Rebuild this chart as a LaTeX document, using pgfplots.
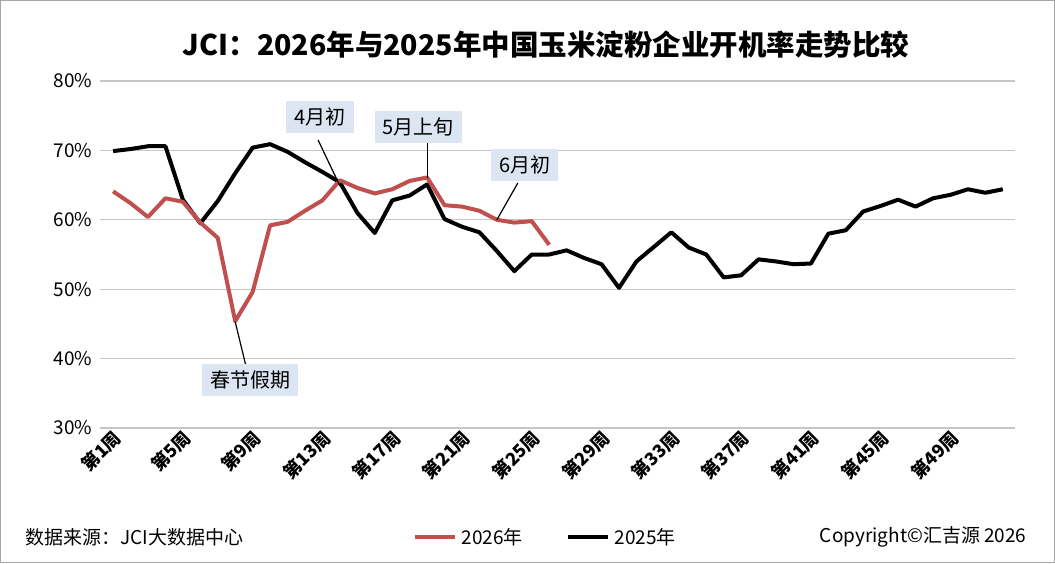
\documentclass[border=0pt]{standalone}
\usepackage{pgfplots}
\pgfplotsset{compat=1.18}
\usepackage{fontspec}
\setmainfont{Noto Sans CJK SC}
\definecolor{red26}{HTML}{C0504D}
\definecolor{boxc}{HTML}{DCE6F2}
\begin{document}
\begin{tikzpicture}[x=1pt,y=1pt]
\draw[color=gray!70,line width=1pt,fill=white] (0.5,0.5) rectangle (1054.5,562.5);
\node[font=\fontsize{28.5}{32}\selectfont\bfseries] at (546,518) {JCI：2026年与2025年中国玉米淀粉企业开机率走势比较};
\begin{axis}[at={(100pt,135pt)},anchor=south west,scale only axis,width=915pt,height=347pt,
  xmin=0.25,xmax=52.7,ymin=30,ymax=80,
  ytick={30,40,...,80},yticklabel={\pgfmathprintnumber{\tick}\%},
  xtick={1,5,...,49},xticklabels={第1周,第5周,第9周,第13周,第17周,第21周,第25周,第29周,第33周,第37周,第41周,第45周,第49周},
  xticklabel style={rotate=45,anchor=north east,font=\fontsize{18}{20}\selectfont\bfseries,yshift=2pt,inner sep=1pt},
  yticklabel style={font=\fontsize{19}{22}\selectfont,xshift=-4pt},
  /pgf/number format/assume math mode=true,
  ymajorgrids,grid style={color=gray!45,line width=1.2pt},
  axis line style={draw=none},major tick length=0pt,
  clip=false]
\addplot[black,line width=4pt,line join=round] coordinates {
(1,69.9)(2,70.2)(3,70.6)(4,70.6)(5,62.9)(6,59.5)(7,62.7)(8,66.7)(9,70.4)(10,70.9)
(11,69.8)(12,68.3)(13,66.9)(14,65.4)(15,61.0)(16,58.1)(17,62.8)(18,63.5)(19,65.1)(20,60.1)
(21,59.0)(22,58.2)(23,55.5)(24,52.6)(25,55.0)(26,55.0)(27,55.6)(28,54.5)(29,53.6)(30,50.2)
(31,54.0)(32,56.1)(33,58.2)(34,56.0)(35,55.0)(36,51.7)(37,52.0)(38,54.3)(39,54.0)(40,53.6)
(41,53.7)(42,58.0)(43,58.5)(44,61.2)(45,62.0)(46,62.9)(47,61.9)(48,63.1)(49,63.6)(50,64.4)
(51,63.9)(52,64.4)};
\addplot[red26,line width=4pt,line join=round] coordinates {
(1,64.1)(2,62.4)(3,60.4)(4,63.1)(5,62.6)(6,59.6)(7,57.4)(8,45.4)(9,49.6)(10,59.2)
(11,59.7)(12,61.3)(13,62.8)(14,65.7)(15,64.6)(16,63.8)(17,64.4)(18,65.6)(19,66.1)(20,62.1)
(21,61.9)(22,61.3)(23,60.0)(24,59.6)(25,59.8)(26,56.4)};
\draw[line width=1.2pt] (axis cs:12.75,71.5) -- (axis cs:14.0,64.9);
\draw[line width=1.2pt] (axis cs:19,71.2) -- (axis cs:19,66.0);
\draw[line width=1.2pt] (axis cs:24.2,65.3) -- (axis cs:23,60);
\draw[line width=1.2pt] (axis cs:8.6,39.1) -- (axis cs:8,45.3);
\tikzset{cb/.style={fill=boxc,inner xsep=8pt,inner ysep=7pt,font=\fontsize{20}{23}\selectfont}}
\node[cb] at (axis cs:12.86,74.8) {4月初};
\node[cb] at (axis cs:18.5,73.4) {5月上旬};
\node[cb] at (axis cs:24.6,67.9) {6月初};
\node[cb] at (axis cs:8.85,36.9) {春节假期};
\end{axis}
\draw[red26,line width=4pt] (415,26) -- (455,26);
\node[anchor=west,font=\fontsize{19}{22}\selectfont] at (458,26) {2026年};
\draw[black,line width=4pt] (568,26) -- (608,26);
\node[anchor=west,font=\fontsize{19}{22}\selectfont] at (611,26) {2025年};
\node[anchor=west,font=\fontsize{19}{22}\selectfont] at (22,26) {数据来源：JCI大数据中心};
\node[anchor=east,font=\fontsize{19}{22}\selectfont] at (1030,26) {Copyright©汇吉源 2026};
\end{tikzpicture}
\end{document}
